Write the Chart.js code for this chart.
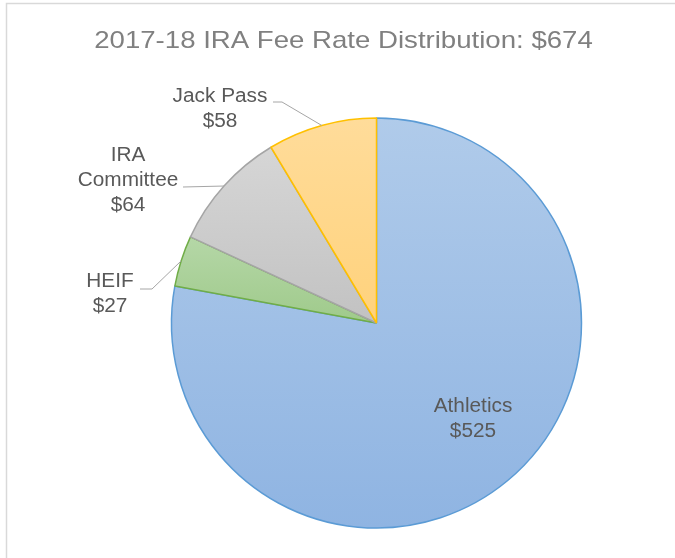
<!DOCTYPE html>
<html>
<head>
<meta charset="utf-8">
<script src="https://cdn.jsdelivr.net/npm/chart.js@4/dist/chart.umd.min.js"></script>
<style>
html,body{margin:0;padding:0;background:#fff;}
#wrap{position:relative;width:675px;height:558px;}
</style>
</head>
<body>
<div id="wrap"><canvas id="c" width="675" height="558"></canvas></div>
<script>
// ---- data ----
const chartTitle = '2017-18 IRA Fee Rate Distribution: $674';
const categories = ['Athletics', 'HEIF', 'IRA Committee', 'Jack Pass'];
const values = [525, 27, 64, 58];
const valueLabels = ['$525', '$27', '$64', '$58'];
const labelLines = [['Athletics'], ['HEIF'], ['IRA', 'Committee'], ['Jack Pass']];

// ---- styles ----
const gradTop = ['#b0cbea', '#b5d7a7', '#d6d6d6', '#ffdc9a'];
const gradBottom = ['#8fb4e2', '#9fca8b', '#c2c2c2', '#ffd27c'];
const borderColors = ['#5b9bd5', '#70ad47', '#a5a5a5', '#ffc000'];
// label placement: text center x, first line center y, optional leader line start/elbow
const labelLayout = [
  { x: 473, y: 406, lead: null },
  { x: 110, y: 281.5, lead: { sx: 140, sy: 289, ex: 152 } },
  { x: 128, y: 155, lead: { sx: 183, sy: 187, ex: 183 } },
  { x: 220, y: 96, lead: { sx: 273, sy: 102, ex: 282 } }
];
const LINE_H = 25;
const PIE_R = 205;

const total = values.reduce((a, b) => a + b, 0);

function sliceAngles(i) {
  let s = 0;
  for (let k = 0; k < i; k++) s += values[k];
  const a0 = -Math.PI / 2 + (s / total) * 2 * Math.PI;
  const a1 = a0 + (values[i] / total) * 2 * Math.PI;
  return [a0, a1];
}

function sliceGradient(context) {
  const chart = context.chart;
  const ca = chart.chartArea;
  const i = context.dataIndex;
  if (!ca || i === undefined) return gradTop[0];
  const cx = (ca.left + ca.right) / 2, cy = (ca.top + ca.bottom) / 2;
  const [a0, a1] = sliceAngles(i);
  let ys = [cy, cy + PIE_R * Math.sin(a0), cy + PIE_R * Math.sin(a1)];
  // check top (-PI/2 or 3PI/2) and bottom (PI/2)
  [-Math.PI / 2, Math.PI / 2, 3 * Math.PI / 2].forEach(a => {
    if (a >= a0 && a <= a1) ys.push(cy + PIE_R * Math.sin(a));
  });
  const top = Math.min(...ys), bot = Math.max(...ys);
  const g = chart.ctx.createLinearGradient(0, top, 0, bot);
  g.addColorStop(0, gradTop[i]);
  g.addColorStop(1, gradBottom[i]);
  return g;
}

function stretchedText(ctx, text, x, y, sx) {
  ctx.save();
  ctx.translate(x, y);
  ctx.scale(sx, 1);
  ctx.fillText(text, 0, 0);
  ctx.restore();
}

const decorPlugin = {
  id: 'decor',
  beforeDraw(chart) {
    const ctx = chart.ctx;
    ctx.save();
    ctx.fillStyle = '#ffffff';
    ctx.fillRect(0, 0, chart.width, chart.height);
    ctx.strokeStyle = '#d9d9d9';
    ctx.lineWidth = 1.5;
    ctx.beginPath();
    ctx.moveTo(6.5, chart.height + 2);
    ctx.lineTo(6.5, 3.5);
    ctx.lineTo(chart.width + 2, 3.5);
    ctx.stroke();
    // title
    ctx.fillStyle = '#808080';
    ctx.font = '24px "Liberation Sans", Arial, sans-serif';
    ctx.textAlign = 'center';
    ctx.textBaseline = 'alphabetic';
    stretchedText(ctx, chartTitle, 343.5, 48, 1.15);
    ctx.restore();
  },
  afterDatasetsDraw(chart) {
    const ctx = chart.ctx;
    const meta = chart.getDatasetMeta(0);
    ctx.save();
    ctx.font = '20px "Liberation Sans", Arial, sans-serif';
    ctx.textAlign = 'center';
    ctx.textBaseline = 'middle';
    meta.data.forEach((arc, i) => {
      const L = labelLayout[i];
      const lines = labelLines[i].concat([valueLabels[i]]);
      if (L.lead) {
        const mid = (arc.startAngle + arc.endAngle) / 2;
        const px = arc.x + arc.outerRadius * Math.cos(mid);
        const py = arc.y + arc.outerRadius * Math.sin(mid);
        ctx.strokeStyle = '#a6a6a6';
        ctx.lineWidth = 1;
        ctx.beginPath();
        ctx.moveTo(L.lead.sx, L.lead.sy);
        ctx.lineTo(L.lead.ex, L.lead.sy);
        ctx.lineTo(px, py);
        ctx.stroke();
      }
      ctx.fillStyle = '#595959';
      lines.forEach((t, k) => stretchedText(ctx, t, L.x, L.y + k * LINE_H, 1.04));
    });
    ctx.restore();
  }
};

new Chart(document.getElementById('c'), {
  type: 'pie',
  data: {
    labels: categories,
    datasets: [{
      data: values,
      backgroundColor: sliceGradient,
      borderColor: borderColors,
      borderWidth: 1.5,
      hoverOffset: 0
    }]
  },
  options: {
    responsive: false,
    animation: false,
    radius: PIE_R,
    layout: { padding: { left: 98, right: 20, top: 108, bottom: 20 } },
    plugins: {
      legend: { display: false },
      title: { display: false },
      tooltip: { enabled: false }
    }
  },
  plugins: [decorPlugin]
});
</script>
</body>
</html>
